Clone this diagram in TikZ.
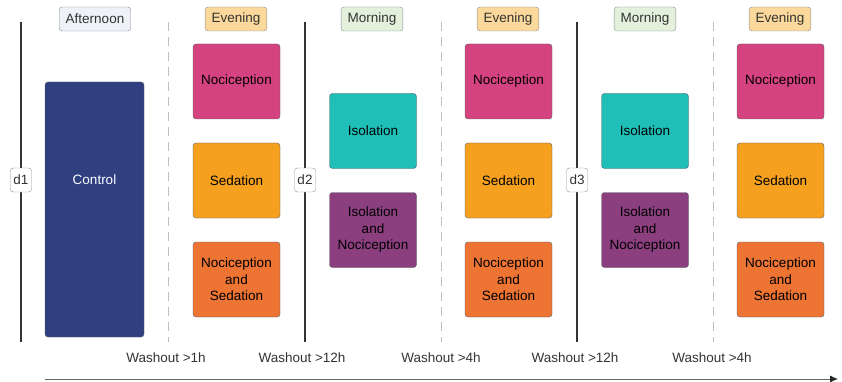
\documentclass[tikz,border=0pt]{standalone}
\usepackage{fontspec}
\setmainfont{Liberation Sans}
\usepackage{xcolor}
\usetikzlibrary{arrows.meta,positioning}

\definecolor{nocicol}{HTML}{D4437F}
\definecolor{sedcol}{HTML}{F5A01F}
\definecolor{nscol}{HTML}{EE7434}
\definecolor{isocol}{HTML}{1FBFB8}
\definecolor{incol}{HTML}{8B3F7F}
\definecolor{ctrlcol}{HTML}{2F3F7F}
\definecolor{aftcol}{HTML}{EEF2F6}
\definecolor{evecol}{HTML}{FBD89B}
\definecolor{morcol}{HTML}{E3F0DC}
\definecolor{edgecol}{HTML}{5A5F66}

\begin{document}
\begin{tikzpicture}[x=1pt,y=-1pt,font=\fontsize{13.5}{16.5}\selectfont,>=Latex,
 cond/.style={draw=edgecol,rounded corners=3pt,align=center,minimum height=75pt,minimum width=87pt,inner sep=2pt},
 slot/.style={draw=edgecol!70,rounded corners=3pt,minimum height=24pt,inner xsep=6.5pt,text=black!80},
 day/.style={draw=edgecol!70,fill=white,rounded corners=3pt,minimum height=24pt,minimum width=21pt,inner sep=2pt,text=black!80},
 wash/.style={text=black!80},
 daysep/.style={line width=1.4pt,draw=black!80},
 halfsep/.style={dashed,dash pattern=on 9pt off 6pt,draw=black!25,line width=0.9pt}]
\useasboundingbox (0,0) rectangle (842,382);
% day separators
\foreach \x/\n in {21/1,305/2,577/3}{
 \draw[daysep] (\x,22)--(\x,342);
 \node[day] (d\n) at (\x,180) {d\n};
}
\foreach \x in {168,441,713}
 \draw[halfsep] (\x,22)--(\x,342);
% time of day
\node[slot,fill=aftcol] (aft) at (95,19) {Afternoon};
\node[slot,fill=evecol] (eve1) at (236,19) {Evening};
\node[slot,fill=morcol] (mor2) at (372,19) {Morning};
\node[slot,fill=evecol] (eve2) at (508,19) {Evening};
\node[slot,fill=morcol] (mor3) at (645,19) {Morning};
\node[slot,fill=evecol] (eve3) at (780,19) {Evening};
% conditions
\node[cond,fill=ctrlcol,minimum width=99pt,minimum height=255pt,
 label={[text=white,yshift=29.5pt]center:Control}] (ctrl) at (94.5,209.5) {};
\foreach \x/\n in {236.5/1,508.5/2,780.5/3}{
 \node[cond,fill=nocicol] (noc\n) at (\x,81.5) {Nociception};
 \node[cond,fill=sedcol] (sed\n) at (\x,180.5) {Sedation};
 \node[cond,fill=nscol] (ns\n) at (\x,279.5) {Nociception\\and\\Sedation};
}
\foreach \x/\n in {373/2,645/3}{
 \node[cond,fill=isocol] (iso\n) at (\x,131) {Isolation};
 \node[cond,fill=incol] (in\n) at (\x,230) {Isolation\\and\\Nociception};
}
% washouts
\node[wash] (w1) at (166,358) {Washout >1h};
\node[wash] (w2) at (302,358) {Washout >12h};
\node[wash] (w3) at (441,358) {Washout >4h};
\node[wash] (w4) at (575,358) {Washout >12h};
\node[wash] (w5) at (712,358) {Washout >4h};
% time axis
\coordinate (t0) at (45,379);
\coordinate (t1) at (838,379);
\draw[draw=black!60,line width=0.8pt,-{Latex[length=8pt,width=7pt,color=black!85]}] (t0)--(t1);
\end{tikzpicture}
\end{document}
